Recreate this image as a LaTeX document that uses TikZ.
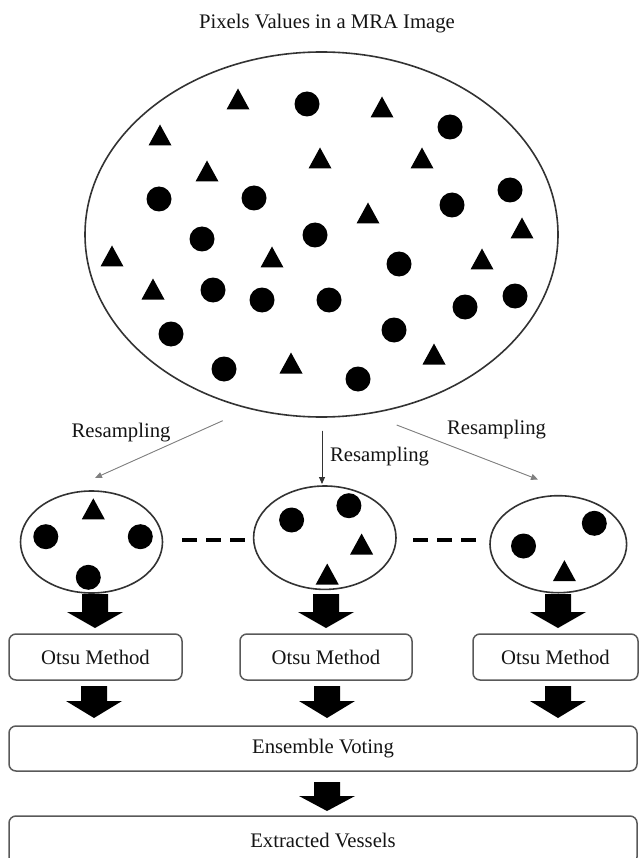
\documentclass[tikz,border=0pt]{standalone}
\usepackage{fontspec}
\setmainfont{Liberation Serif}
\usetikzlibrary{arrows.meta,shapes.geometric}
\newcommand{\blkarrow}[4]{\fill[black] (#1-13,#2) -- (#1+13,#2) -- (#1+13,#3) -- (#1+28,#3) -- (#1,#4) -- (#1-28,#3) -- (#1-13,#3) -- cycle;}
\begin{document}
\begin{tikzpicture}[x=1pt,y=-1pt,
  lab/.style={font=\fontsize{20.7}{24}\selectfont, text=black!92, inner sep=0pt, anchor=base},
  pool/.style={draw=black!80, line width=1.6pt, ellipse, inner sep=0pt, outer sep=0pt},
  stepbox/.style={draw=black!65, line width=1.5pt, rounded corners=7pt, inner sep=0pt,
    font=\fontsize{20.7}{24}\selectfont, text=black!92},
  pdot/.pic={\fill[black] (0,0) circle[radius=12.5pt];},
  ptri/.pic={\fill[black] (-11.5,10.5) -- (11.5,10.5) -- (0,-10.5) -- cycle;},
  thinarr/.style={line width=0.9pt, -{Triangle[length=7pt,width=6pt]}},
  dashline/.style={line width=4pt, dash pattern=on 15pt off 9pt},
]
\useasboundingbox (0,0) rectangle (638,858);

% title
\node[lab] (title) at (327,28.5) {Pixels Values in a MRA Image};

% big ellipse
\node[pool, minimum width=473pt, minimum height=365pt] (big) at (321.5,234.5) {};
% triangles
\foreach \x/\y in {238/99, 382/107, 160/135, 320/158, 422/158, 207/171, 368/213,
  522/228, 112/256, 272/257, 482/259, 153/289, 291/363, 434/354}
  \pic at (\x,\y) {ptri};
% circles
\foreach \x/\y in {307/104, 450/127, 159/199, 254/198, 510/190, 452/205, 202/239,
  315/235, 399/264, 213/290, 262/300, 329/300, 465/307, 515/296, 171/334, 394/330,
  224/369, 358/379}
  \pic at (\x,\y) {pdot};

% resampling arrows
\coordinate (r1a) at (222.7,420.7); \coordinate (r1b) at (95,478);
\coordinate (r2a) at (322,430.7);  \coordinate (r2b) at (322,484);
\coordinate (r3a) at (396.7,425);  \coordinate (r3b) at (538,479.5);
\draw[thinarr, draw=black!50, fill=black!50] (r1a) -- (r1b);
\draw[thinarr, draw=black!80, fill=black!80] (r2a) -- (r2b);
\draw[thinarr, draw=black!50, fill=black!50] (r3a) -- (r3b);
\node[lab] (l1) at (121,437) {Resampling};
\node[lab] (l2) at (379.5,461.5) {Resampling};
\node[lab] (l3) at (496.5,434) {Resampling};

% small ellipses
\node[pool, minimum width=142pt, minimum height=102pt] (s1) at (91.5,542) {};
\node[pool, minimum width=142.4pt, minimum height=103.4pt] (s2) at (324.8,537.7) {};
\node[pool, minimum width=136.6pt, minimum height=97pt] (s3) at (558.3,544.2) {};
\pic at (93.3,508.8) {ptri};
\pic at (45.8,536.7) {pdot};
\pic at (140.3,536.7) {pdot};
\pic at (88.3,577.3) {pdot};
\pic at (291.6,520) {pdot};
\pic at (348.9,505.7) {pdot};
\pic at (361.6,544) {ptri};
\pic at (327.2,574) {ptri};
\pic at (594.3,523.3) {pdot};
\pic at (523.5,546) {pdot};
\pic at (564.4,570.7) {ptri};

% dashes between ellipses
\coordinate (d1a) at (182,540); \coordinate (d1b) at (245,540);
\coordinate (d2a) at (413,540); \coordinate (d2b) at (476,540);
\draw[dashline] (d1a) -- (d1b);
\draw[dashline] (d2a) -- (d2b);

% Otsu boxes
\node[stepbox, minimum width=173pt, minimum height=46pt] (o1) at (95.5,657) {Otsu Method};
\node[stepbox, minimum width=172pt, minimum height=46pt] (o2) at (326,657) {Otsu Method};
\node[stepbox, minimum width=165pt, minimum height=46pt] (o3) at (555.5,657) {Otsu Method};

\node[stepbox, minimum width=628pt, minimum height=45pt] (ens) at (323,748.5) {Ensemble Voting};
\node[stepbox, minimum width=628pt, minimum height=48pt] (ext) at (323,840) {Extracted Vessels};

% block arrows
\blkarrow{95}{594}{612}{628}
\blkarrow{326}{594}{612}{628}
\blkarrow{558}{594}{612}{628}
\blkarrow{94}{686}{701}{718}
\blkarrow{327}{686}{701}{718}
\blkarrow{558}{686}{701}{718}
\blkarrow{327}{782}{796}{811}
\end{tikzpicture}
\end{document}
